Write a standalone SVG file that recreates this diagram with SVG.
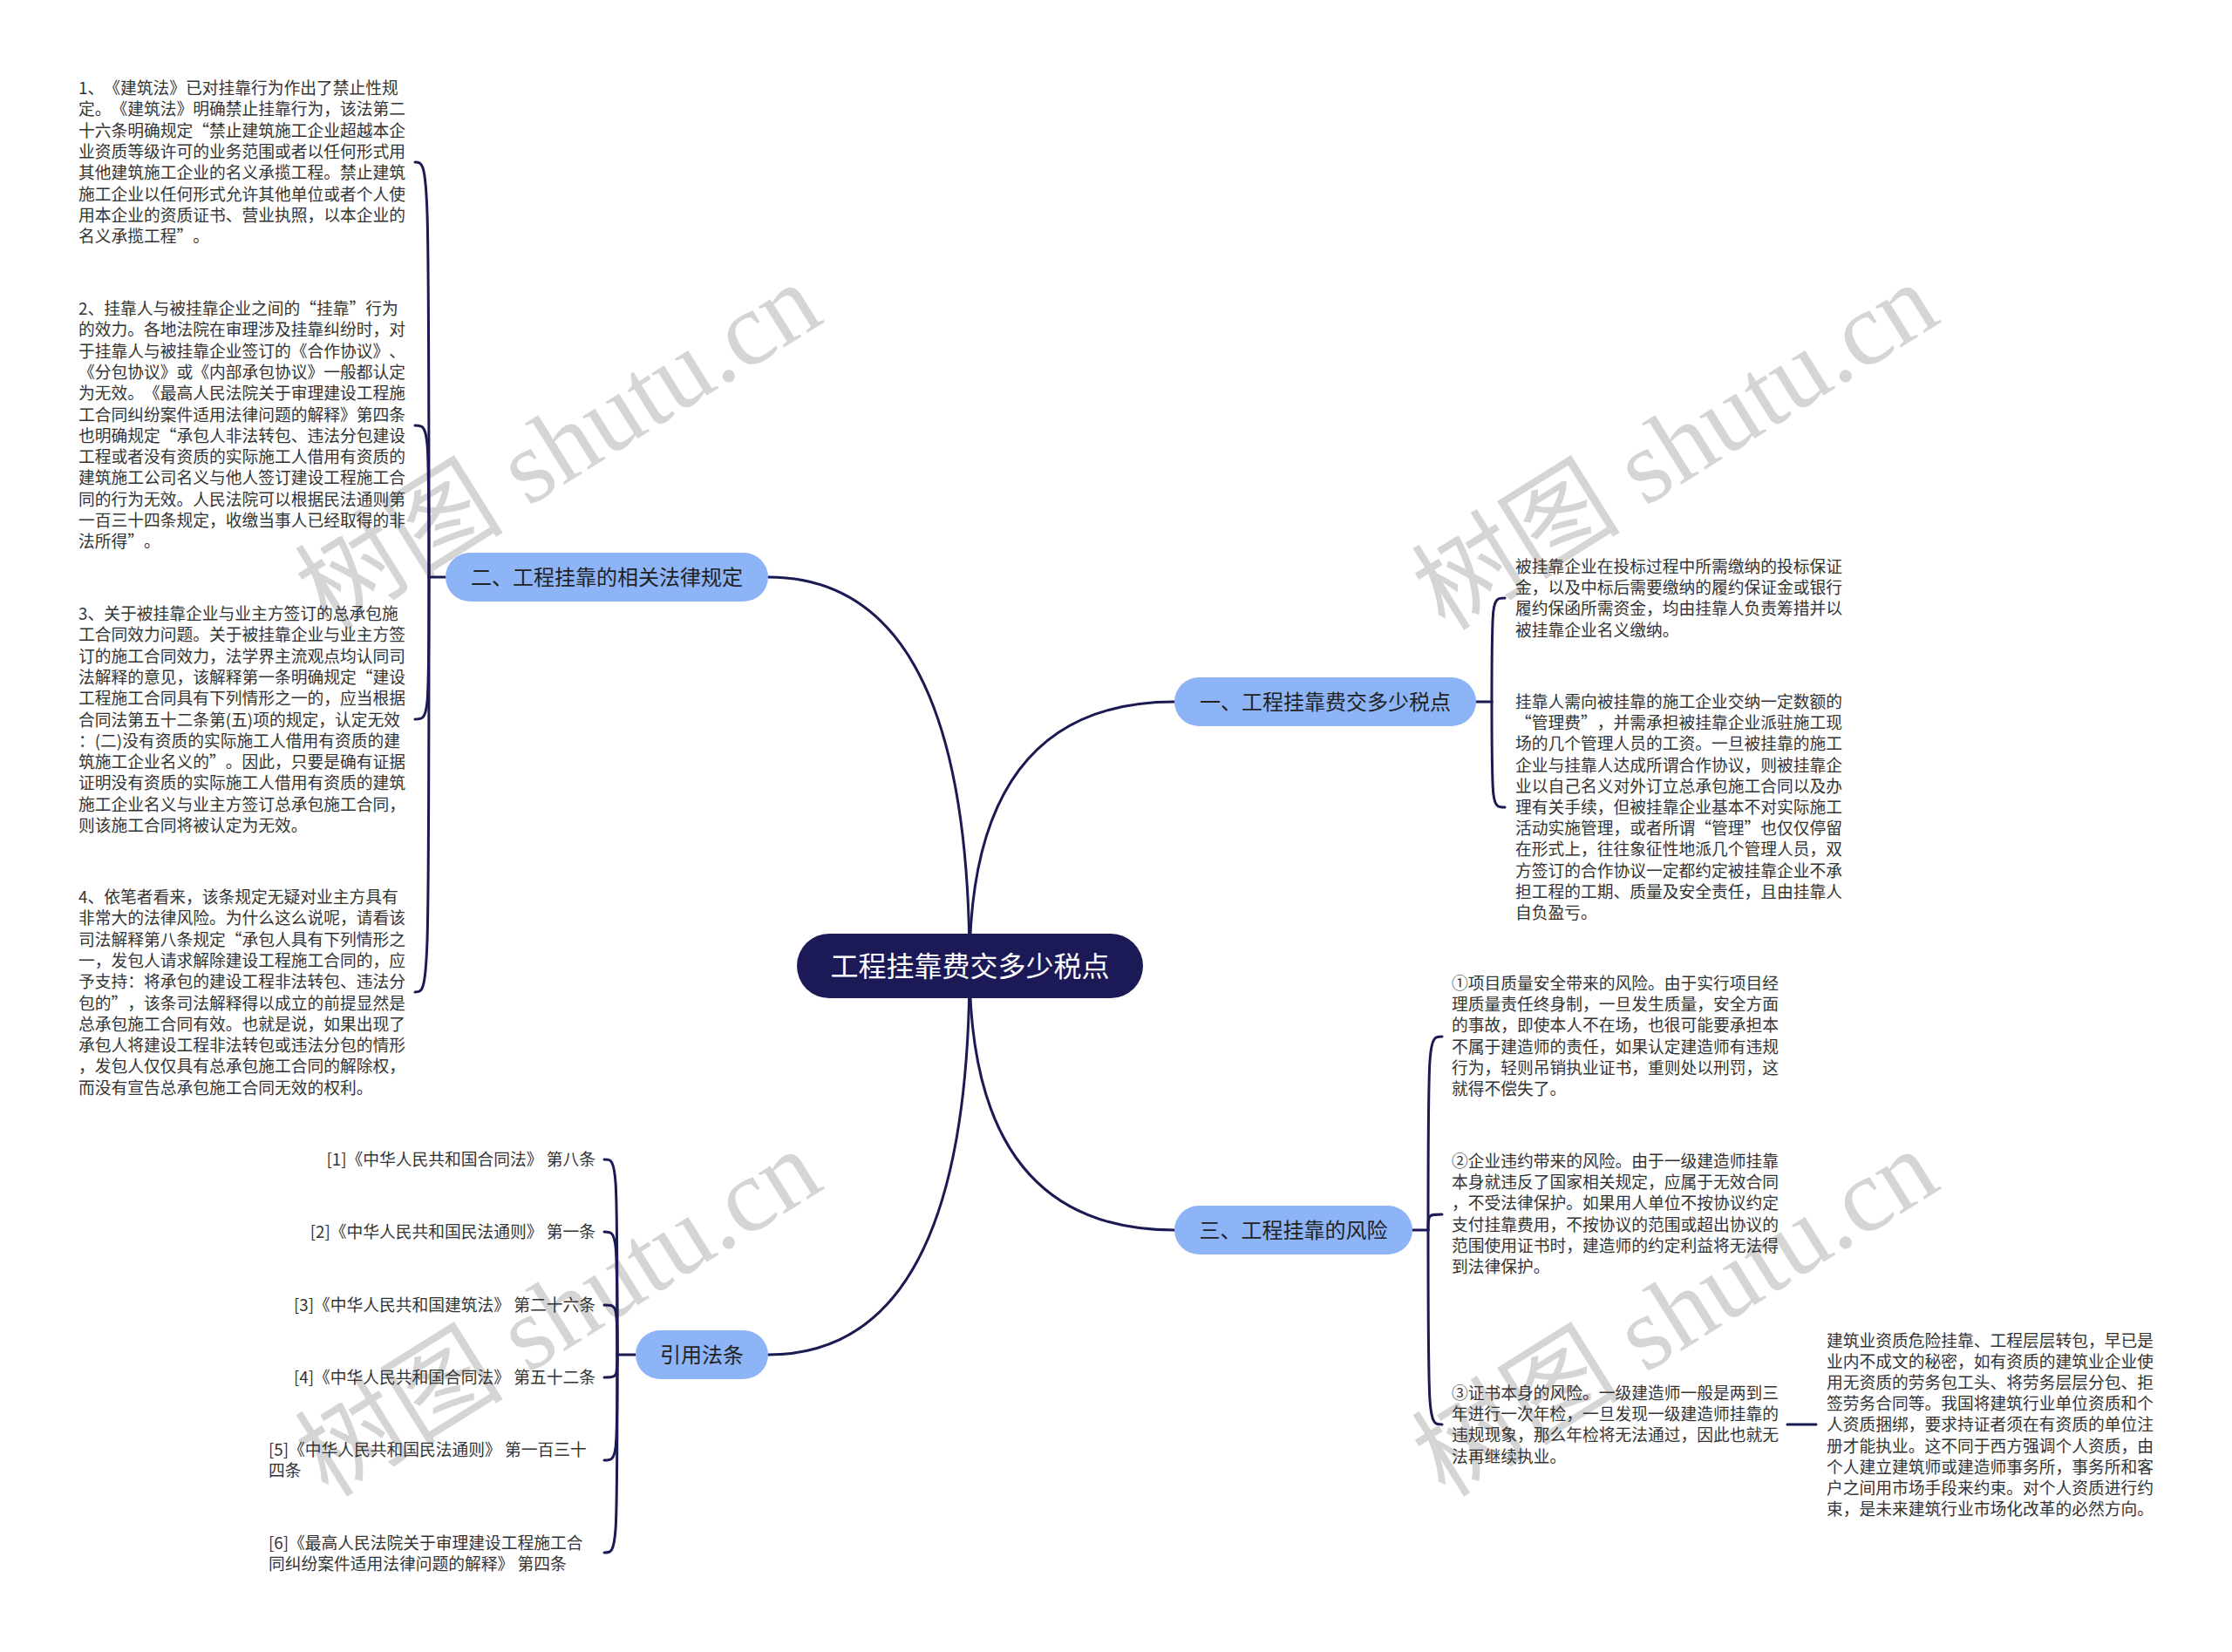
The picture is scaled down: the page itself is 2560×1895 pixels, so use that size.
<svg xmlns="http://www.w3.org/2000/svg" width="2560" height="1895" viewBox="0 0 2560 1895">
<style>
text{text-spacing-trim:space-all;}
.wm{font-family:"Liberation Serif","Noto Sans CJK SC",serif;font-size:120px;fill:#d5d5d5;}
.c{fill:none;stroke:#1b1a52;stroke-width:3;stroke-linecap:round;}
.n{fill:#8db4f7;}
.nt{font-family:"Noto Sans CJK SC",sans-serif;font-size:24px;fill:#222;text-anchor:middle;}
.rt{font-family:"Noto Sans CJK SC",sans-serif;font-size:32px;fill:#fff;text-anchor:middle;}
.t{font-family:"Noto Sans CJK SC",sans-serif;font-size:18.75px;fill:#333;}
.e{text-anchor:end;}
</style>
<rect width="2560" height="1895" fill="#fff"/>
<g id="watermark">
<text class="wm" transform="translate(643,516) rotate(-32)" x="0" y="36" text-anchor="middle">树图 shutu.cn</text>
<text class="wm" transform="translate(1924,516) rotate(-32)" x="0" y="36" text-anchor="middle">树图 shutu.cn</text>
<text class="wm" transform="translate(643,1510) rotate(-32)" x="0" y="36" text-anchor="middle">树图 shutu.cn</text>
<text class="wm" transform="translate(1924,1510) rotate(-32)" x="0" y="36" text-anchor="middle">树图 shutu.cn</text>
</g>
<g id="connectors">
<path class="c" d="M1112 1108 Q1112 662 881 662"/>
<path class="c" d="M1112 1108 Q1112 805 1347 805"/>
<path class="c" d="M1112 1108 Q1112 1411 1347 1411"/>
<path class="c" d="M1112 1108 Q1112 1554 881 1554"/>
<path class="c" d="M511 662 H492"/>
<path class="c" d="M492 662 C492 186 492 186 476 186"/>
<path class="c" d="M492 662 C492 488 492 488 476 488"/>
<path class="c" d="M492 662 C492 825 492 825 476 825"/>
<path class="c" d="M492 662 C492 1138 492 1138 476 1138"/>
<path class="c" d="M1693 805 H1711"/>
<path class="c" d="M1711 805 C1711 686 1711 686 1726 686"/>
<path class="c" d="M1711 805 C1711 926 1711 926 1726 926"/>
<path class="c" d="M1620 1411 H1638"/>
<path class="c" d="M1638 1411 C1638 1189 1638 1189 1654 1189"/>
<path class="c" d="M1638 1411 C1638 1393 1638 1393 1654 1393"/>
<path class="c" d="M1638 1411 C1638 1634 1638 1634 1654 1634"/>
<path class="c" d="M2050 1634 H2083"/>
<path class="c" d="M729 1554 H708"/>
<path class="c" d="M708 1554 C708 1330 708 1330 693 1330"/>
<path class="c" d="M708 1554 C708 1413 708 1413 693 1413"/>
<path class="c" d="M708 1554 C708 1497 708 1497 693 1497"/>
<path class="c" d="M708 1554 C708 1580 708 1580 693 1580"/>
<path class="c" d="M708 1554 C708 1675 708 1675 693 1675"/>
<path class="c" d="M708 1554 C708 1781 708 1781 693 1781"/>
</g>
<g id="root">
<rect x="914" y="1071" width="397" height="74" rx="37" fill="#1c1a56"/>
<text class="rt" x="1112.5" y="1120">工程挂靠费交多少税点</text>
</g>
<g id="node-law">
<rect class="n" x="511" y="634" width="370" height="56" rx="28"/>
<text class="nt" x="696" y="671">二、工程挂靠的相关法律规定</text>
</g>
<g id="node-fee">
<rect class="n" x="1347" y="777" width="346" height="56" rx="28"/>
<text class="nt" x="1520" y="814">一、工程挂靠费交多少税点</text>
</g>
<g id="node-risk">
<rect class="n" x="1347" y="1383" width="273" height="56" rx="28"/>
<text class="nt" x="1483.5" y="1420">三、工程挂靠的风险</text>
</g>
<g id="node-ref">
<rect class="n" x="729" y="1526" width="152" height="56" rx="28"/>
<text class="nt" x="805" y="1563">引用法条</text>
</g>
<g id="law-1">
<text class="t" x="90" y="108"><tspan x="90">1、《建筑法》已对挂靠行为作出了禁止性规</tspan><tspan x="90" dy="24.3">定。《建筑法》明确禁止挂靠行为，该法第二</tspan><tspan x="90" dy="24.3">十六条明确规定“禁止建筑施工企业超越本企</tspan><tspan x="90" dy="24.3">业资质等级许可的业务范围或者以任何形式用</tspan><tspan x="90" dy="24.3">其他建筑施工企业的名义承揽工程。禁止建筑</tspan><tspan x="90" dy="24.3">施工企业以任何形式允许其他单位或者个人使</tspan><tspan x="90" dy="24.3">用本企业的资质证书、营业执照，以本企业的</tspan><tspan x="90" dy="24.3">名义承揽工程”。</tspan></text>
</g>
<g id="law-2">
<text class="t" x="90" y="361"><tspan x="90">2、挂靠人与被挂靠企业之间的“挂靠”行为</tspan><tspan x="90" dy="24.3">的效力。各地法院在审理涉及挂靠纠纷时，对</tspan><tspan x="90" dy="24.3">于挂靠人与被挂靠企业签订的《合作协议》、</tspan><tspan x="90" dy="24.3">《分包协议》或《内部承包协议》一般都认定</tspan><tspan x="90" dy="24.3">为无效。《最高人民法院关于审理建设工程施</tspan><tspan x="90" dy="24.3">工合同纠纷案件适用法律问题的解释》第四条</tspan><tspan x="90" dy="24.3">也明确规定“承包人非法转包、违法分包建设</tspan><tspan x="90" dy="24.3">工程或者没有资质的实际施工人借用有资质的</tspan><tspan x="90" dy="24.3">建筑施工公司名义与他人签订建设工程施工合</tspan><tspan x="90" dy="24.3">同的行为无效。人民法院可以根据民法通则第</tspan><tspan x="90" dy="24.3">一百三十四条规定，收缴当事人已经取得的非</tspan><tspan x="90" dy="24.3">法所得”。</tspan></text>
</g>
<g id="law-3">
<text class="t" x="90" y="711"><tspan x="90">3、关于被挂靠企业与业主方签订的总承包施</tspan><tspan x="90" dy="24.3">工合同效力问题。关于被挂靠企业与业主方签</tspan><tspan x="90" dy="24.3">订的施工合同效力，法学界主流观点均认同司</tspan><tspan x="90" dy="24.3">法解释的意见，该解释第一条明确规定“建设</tspan><tspan x="90" dy="24.3">工程施工合同具有下列情形之一的，应当根据</tspan><tspan x="90" dy="24.3">合同法第五十二条第(五)项的规定，认定无效</tspan><tspan x="90" dy="24.3">：(二)没有资质的实际施工人借用有资质的建</tspan><tspan x="90" dy="24.3">筑施工企业名义的”。因此，只要是确有证据</tspan><tspan x="90" dy="24.3">证明没有资质的实际施工人借用有资质的建筑</tspan><tspan x="90" dy="24.3">施工企业名义与业主方签订总承包施工合同，</tspan><tspan x="90" dy="24.3">则该施工合同将被认定为无效。</tspan></text>
</g>
<g id="law-4">
<text class="t" x="90" y="1036"><tspan x="90">4、依笔者看来，该条规定无疑对业主方具有</tspan><tspan x="90" dy="24.3">非常大的法律风险。为什么这么说呢，请看该</tspan><tspan x="90" dy="24.3">司法解释第八条规定“承包人具有下列情形之</tspan><tspan x="90" dy="24.3">一，发包人请求解除建设工程施工合同的，应</tspan><tspan x="90" dy="24.3">予支持：将承包的建设工程非法转包、违法分</tspan><tspan x="90" dy="24.3">包的”，该条司法解释得以成立的前提显然是</tspan><tspan x="90" dy="24.3">总承包施工合同有效。也就是说，如果出现了</tspan><tspan x="90" dy="24.3">承包人将建设工程非法转包或违法分包的情形</tspan><tspan x="90" dy="24.3">，发包人仅仅具有总承包施工合同的解除权，</tspan><tspan x="90" dy="24.3">而没有宣告总承包施工合同无效的权利。</tspan></text>
</g>
<g id="fee-1">
<text class="t" x="1738" y="657"><tspan x="1738">被挂靠企业在投标过程中所需缴纳的投标保证</tspan><tspan x="1738" dy="24.2">金，以及中标后需要缴纳的履约保证金或银行</tspan><tspan x="1738" dy="24.2">履约保函所需资金，均由挂靠人负责筹措并以</tspan><tspan x="1738" dy="24.2">被挂靠企业名义缴纳。</tspan></text>
</g>
<g id="fee-2">
<text class="t" x="1738" y="812"><tspan x="1738">挂靠人需向被挂靠的施工企业交纳一定数额的</tspan><tspan x="1738" dy="24.2">“管理费”，并需承担被挂靠企业派驻施工现</tspan><tspan x="1738" dy="24.2">场的几个管理人员的工资。一旦被挂靠的施工</tspan><tspan x="1738" dy="24.2">企业与挂靠人达成所谓合作协议，则被挂靠企</tspan><tspan x="1738" dy="24.2">业以自己名义对外订立总承包施工合同以及办</tspan><tspan x="1738" dy="24.2">理有关手续，但被挂靠企业基本不对实际施工</tspan><tspan x="1738" dy="24.2">活动实施管理，或者所谓“管理”也仅仅停留</tspan><tspan x="1738" dy="24.2">在形式上，往往象征性地派几个管理人员，双</tspan><tspan x="1738" dy="24.2">方签订的合作协议一定都约定被挂靠企业不承</tspan><tspan x="1738" dy="24.2">担工程的工期、质量及安全责任，且由挂靠人</tspan><tspan x="1738" dy="24.2">自负盈亏。</tspan></text>
</g>
<g id="risk-1">
<text class="t" x="1665" y="1135"><tspan x="1665">①项目质量安全带来的风险。由于实行项目经</tspan><tspan x="1665" dy="24.2">理质量责任终身制，一旦发生质量，安全方面</tspan><tspan x="1665" dy="24.2">的事故，即使本人不在场，也很可能要承担本</tspan><tspan x="1665" dy="24.2">不属于建造师的责任，如果认定建造师有违规</tspan><tspan x="1665" dy="24.2">行为，轻则吊销执业证书，重则处以刑罚，这</tspan><tspan x="1665" dy="24.2">就得不偿失了。</tspan></text>
</g>
<g id="risk-2">
<text class="t" x="1665" y="1339"><tspan x="1665">②企业违约带来的风险。由于一级建造师挂靠</tspan><tspan x="1665" dy="24.2">本身就违反了国家相关规定，应属于无效合同</tspan><tspan x="1665" dy="24.2">，不受法律保护。如果用人单位不按协议约定</tspan><tspan x="1665" dy="24.2">支付挂靠费用，不按协议的范围或超出协议的</tspan><tspan x="1665" dy="24.2">范围使用证书时，建造师的约定利益将无法得</tspan><tspan x="1665" dy="24.2">到法律保护。</tspan></text>
</g>
<g id="risk-3">
<text class="t" x="1665" y="1605"><tspan x="1665">③证书本身的风险。一级建造师一般是两到三</tspan><tspan x="1665" dy="24.2">年进行一次年检，一旦发现一级建造师挂靠的</tspan><tspan x="1665" dy="24.2">违规现象，那么年检将无法通过，因此也就无</tspan><tspan x="1665" dy="24.2">法再继续执业。</tspan></text>
</g>
<g id="risk-3-note">
<text class="t" x="2095" y="1545"><tspan x="2095">建筑业资质危险挂靠、工程层层转包，早已是</tspan><tspan x="2095" dy="24.1">业内不成文的秘密，如有资质的建筑业企业使</tspan><tspan x="2095" dy="24.1">用无资质的劳务包工头、将劳务层层分包、拒</tspan><tspan x="2095" dy="24.1">签劳务合同等。我国将建筑行业单位资质和个</tspan><tspan x="2095" dy="24.1">人资质捆绑，要求持证者须在有资质的单位注</tspan><tspan x="2095" dy="24.1">册才能执业。这不同于西方强调个人资质，由</tspan><tspan x="2095" dy="24.1">个人建立建筑师或建造师事务所，事务所和客</tspan><tspan x="2095" dy="24.1">户之间用市场手段来约束。对个人资质进行约</tspan><tspan x="2095" dy="24.1">束，是未来建筑行业市场化改革的必然方向。</tspan></text>
</g>
<g id="ref-1"><text class="t e" x="683" y="1337">[1]《中华人民共和国合同法》 第八条</text></g>
<g id="ref-2"><text class="t e" x="683" y="1420">[2]《中华人民共和国民法通则》 第一条</text></g>
<g id="ref-3"><text class="t e" x="683" y="1504">[3]《中华人民共和国建筑法》 第二十六条</text></g>
<g id="ref-4"><text class="t e" x="683" y="1587">[4]《中华人民共和国合同法》 第五十二条</text></g>
<g id="ref-5"><text class="t" x="308" y="1670"><tspan x="308">[5]《中华人民共和国民法通则》 第一百三十</tspan><tspan x="308" dy="24">四条</tspan></text></g>
<g id="ref-6"><text class="t" x="308" y="1777"><tspan x="308">[6]《最高人民法院关于审理建设工程施工合</tspan><tspan x="308" dy="24">同纠纷案件适用法律问题的解释》 第四条</tspan></text></g>
</svg>
